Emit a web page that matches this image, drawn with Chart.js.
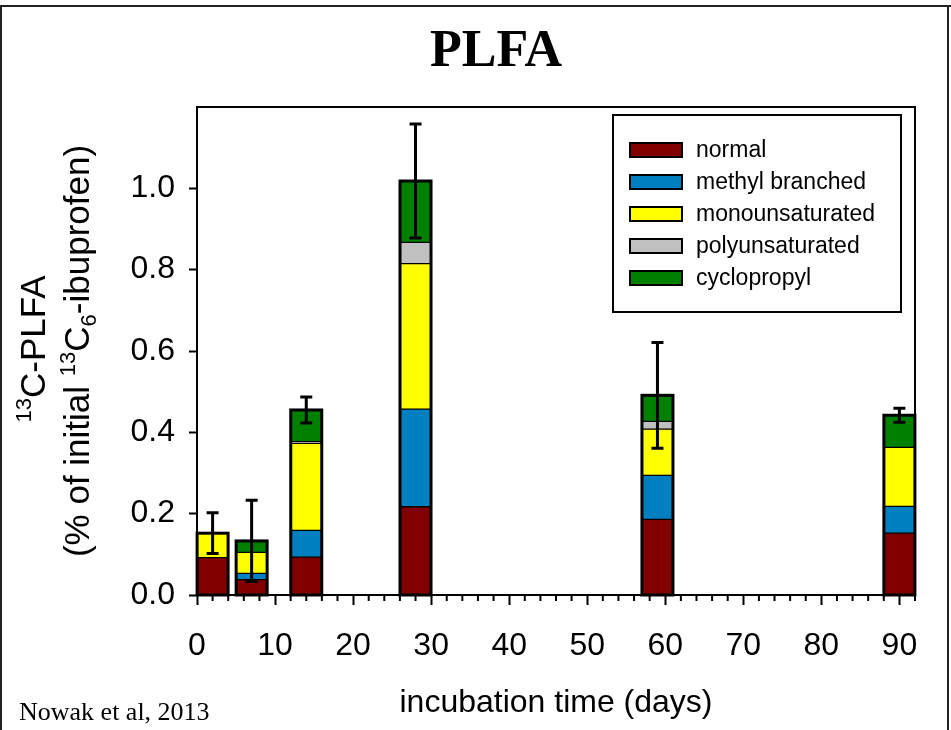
<!DOCTYPE html>
<html>
<head>
<meta charset="utf-8">
<script src="https://cdn.jsdelivr.net/npm/chart.js@4.4.1/dist/chart.umd.min.js"></script>
<style>
  body { margin: 0; background: #fff; }
</style>
</head>
<body>
<canvas id="Canvas" width="951" height="730"></canvas>
<script>
// incubation days and PLFA classes (13C-PLFA, % of initial 13C6-ibuprofen)
const days = [2, 7, 14, 28, 59, 90];
const normal = [0.092, 0.038, 0.093, 0.217, 0.186, 0.152];
const methylBranched = [0, 0.015, 0.066, 0.240, 0.108, 0.066];
const monounsaturated = [0.060, 0.052, 0.214, 0.358, 0.114, 0.145];
const polyunsaturated = [0, 0, 0.004, 0.052, 0.019, 0];
const cyclopropyl = [0, 0.028, 0.078, 0.151, 0.064, 0.079];
const errors = [0.05, 0.10, 0.032, 0.14, 0.13, 0.017];

const xTicks = [0, 10, 20, 30, 40, 50, 60, 70, 80, 90];
const yTicks = [0, 0.2, 0.4, 0.6, 0.8, 1.0];

const SANS = '"Liberation Sans", Arial, sans-serif';
const SERIF = '"Liberation Serif", "Times New Roman", serif';

const series = [
  { label: "normal", data: normal, color: "#800000" },
  { label: "methyl branched", data: methylBranched, color: "#0080C0" },
  { label: "monounsaturated", data: monounsaturated, color: "#FFFF00" },
  { label: "polyunsaturated", data: polyunsaturated, color: "#C0C0C0" },
  { label: "cyclopropyl", data: cyclopropyl, color: "#008000" }
];

const totals = days.map((d, i) => series.reduce((s, ds) => s + ds.data[i], 0));

// draws text with sup/sub parts, centred on (0,0) of current transform
function richText(ctx, parts, size) {
  const small = Math.round(size * 0.62);
  let w = 0;
  parts.forEach(p => {
    ctx.font = (p.s ? small : size) + "px " + SANS;
    p.w = ctx.measureText(p.t).width;
    w += p.w;
  });
  let x = -w / 2;
  parts.forEach(p => {
    ctx.font = (p.s ? small : size) + "px " + SANS;
    const dy = p.s === "sup" ? -size * 0.4 : p.s === "sub" ? size * 0.2 : 0;
    ctx.fillText(p.t, x, dy);
    x += p.w;
  });
}

const decor = {
  id: "decor",
  afterDatasetsDraw(chart) {
    const ctx = chart.ctx;
    const y = chart.scales.y;
    const meta = chart.getDatasetMeta(0);
    ctx.save();
    ctx.strokeStyle = "#000";
    // outline of each stacked bar
    ctx.lineWidth = 3;
    meta.data.forEach((bar, i) => {
      const top = y.getPixelForValue(totals[i]);
      const base = y.getPixelForValue(0);
      ctx.strokeRect(bar.x - bar.width / 2, top, bar.width, base - top);
    });
    // error bars
    ctx.lineWidth = 3;
    meta.data.forEach((bar, i) => {
      const hi = y.getPixelForValue(totals[i] + errors[i]);
      const lo = y.getPixelForValue(totals[i] - errors[i]);
      ctx.beginPath();
      ctx.moveTo(bar.x, hi); ctx.lineTo(bar.x, lo);
      ctx.moveTo(bar.x - 6, hi); ctx.lineTo(bar.x + 6, hi);
      ctx.moveTo(bar.x - 6, lo); ctx.lineTo(bar.x + 6, lo);
      ctx.stroke();
    });
    ctx.restore();
  },
  afterDraw(chart) {
    const ctx = chart.ctx;
    const a = chart.chartArea;
    const x = chart.scales.x;
    ctx.save();
    ctx.strokeStyle = "#000";
    ctx.fillStyle = "#000";
    // title
    ctx.font = "bold 52px " + SERIF;
    ctx.textAlign = "center";
    ctx.textBaseline = "alphabetic";
    ctx.fillText("PLFA", 496, 66);
    ctx.textAlign = "left";
    // plot frame
    ctx.lineWidth = 2;
    ctx.strokeRect(a.left, a.top, a.right - a.left, a.bottom - a.top);
    // minor x ticks
    ctx.beginPath();
    for (let v = 0; v <= x.max; v += 2) {
      if (v % 10 === 0) continue;
      const px = x.getPixelForValue(v);
      ctx.moveTo(px, a.bottom);
      ctx.lineTo(px, a.bottom + 6);
    }
    ctx.stroke();

    // legend
    ctx.lineWidth = 2;
    ctx.strokeRect(613, 115, 288, 197);
    ctx.font = "23px " + SANS;
    ctx.textBaseline = "middle";
    series.forEach((s, i) => {
      const cy = 150 + i * 32;
      ctx.fillStyle = s.color;
      ctx.fillRect(630, cy - 7, 52, 14);
      ctx.strokeRect(630, cy - 7, 52, 14);
      ctx.fillStyle = "#000";
      ctx.fillText(s.label, 696, cy + 1);
    });

    // y axis title
    ctx.textBaseline = "alphabetic";
    ctx.fillStyle = "#000";
    const cy = (a.top + a.bottom) / 2;
    ctx.save();
    ctx.translate(45, cy - 2);
    ctx.rotate(-Math.PI / 2);
    richText(ctx, [{ t: "13", s: "sup" }, { t: "C-PLFA" }], 35);
    ctx.restore();
    ctx.save();
    ctx.translate(89, cy);
    ctx.rotate(-Math.PI / 2);
    richText(ctx, [{ t: "(% of initial " }, { t: "13", s: "sup" }, { t: "C" }, { t: "6", s: "sub" }, { t: "-ibuprofen)" }], 35);
    ctx.restore();

    // source note
    ctx.font = "26px " + SERIF;
    ctx.fillText("Nowak et al, 2013", 19, 720);

    // page border
    ctx.strokeStyle = "#222";
    ctx.lineWidth = 2;
    ctx.beginPath();
    ctx.moveTo(0, 6); ctx.lineTo(951, 6);
    ctx.moveTo(1, 6); ctx.lineTo(1, 730);
    ctx.moveTo(948, 6); ctx.lineTo(948, 730);
    ctx.stroke();
    ctx.restore();
  }
};

const myChart = new Chart(document.getElementById("Canvas").getContext("2d"), {
  type: "bar",
  data: {
    labels: days,
    datasets: series.map(s => ({
      label: s.label,
      data: s.data,
      backgroundColor: s.color,
      borderColor: "#000",
      borderWidth: 1,
      borderSkipped: false,
      barThickness: 31
    }))
  },
  options: {
    responsive: false,
    animation: false,
    layout: { padding: { left: 40, right: 36, top: 107, bottom: 0 } },
    plugins: {
      legend: { display: false },
      tooltip: { enabled: false },
      title: { display: false }
    },
    scales: {
      x: {
        type: "linear",
        stacked: true,
        min: 0,
        max: 92,
        offset: false,
        afterBuildTicks: s => { s.ticks = xTicks.map(v => ({ value: v })); },
        afterFit: s => { s.height = 135; },
        grid: { offset: false, drawOnChartArea: false, tickLength: 10, tickWidth: 2, tickColor: "#000" },
        border: { display: true, color: "#000", width: 2 },
        ticks: { color: "#000", font: { family: SANS, size: 32 }, padding: 22, maxRotation: 0, autoSkip: false },
        title: {
          display: true,
          text: "incubation time (days)",
          color: "#000",
          font: { family: SANS, size: 32 },
          padding: { top: 0, bottom: 8 }
        }
      },
      y: {
        stacked: true,
        min: 0,
        max: 1.2,
        afterBuildTicks: s => { s.ticks = yTicks.map(v => ({ value: v })); },
        afterFit: s => { s.width = 157; },
        grid: { drawOnChartArea: false, tickLength: 8, tickWidth: 2, tickColor: "#000" },
        border: { display: true, color: "#000", width: 2 },
        ticks: { color: "#000", font: { family: SANS, size: 32 }, padding: 14, callback: v => v.toFixed(1) }
      }
    }
  },
  plugins: [decor]
});
</script>
</body>
</html>
